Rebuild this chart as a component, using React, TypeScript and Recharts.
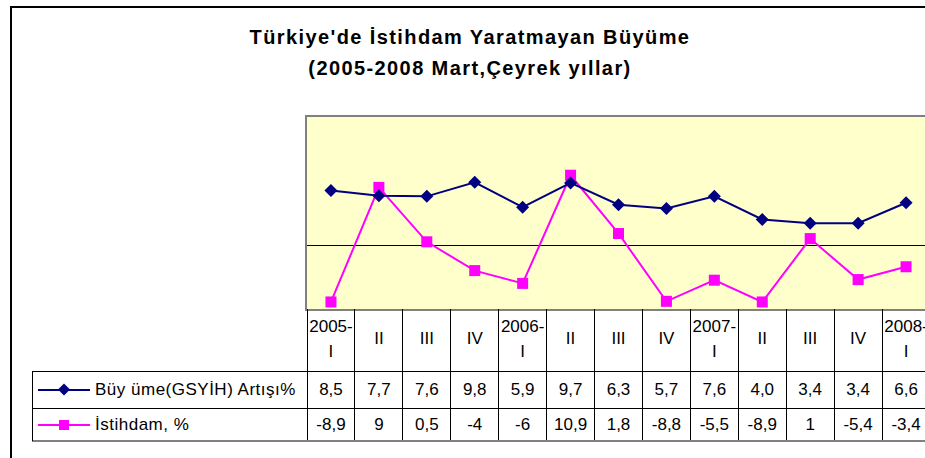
import React from "react";
import { LineChart, Line, XAxis, YAxis, CartesianGrid, ReferenceLine } from "recharts";

// quarters (header row of the data table)
const quarters = [
  "2005-\nI", "II", "III", "IV",
  "2006-\nI", "II", "III", "IV",
  "2007-\nI", "II", "III", "IV",
  "2008-\nI",
];
const growth = [8.5, 7.7, 7.6, 9.8, 5.9, 9.7, 6.3, 5.7, 7.6, 4.0, 3.4, 3.4, 6.6];
const employment = [-8.9, 9, 0.5, -4, -6, 10.9, 1.8, -8.8, -5.5, -8.9, 1, -5.4, -3.4];

const seriesNames = ["Büy üme(GSYİH) Artışı%", "İstihdam, %"];
const NAVY = "#000080";
const MAGENTA = "#FF00FF";

const data = quarters.map((q, i) => ({ q, growth: growth[i], employment: employment[i] }));

const FONT = '"Liberation Sans", Arial, sans-serif';
const PLOT_LEFT = 307;
const PLOT_RIGHT = 930;
const PLOT_TOP = 117;
const PLOT_BOTTOM = 309;
const COL_W = (PLOT_RIGHT - PLOT_LEFT) / quarters.length;
const ROW1_TOP = 371;
const ROW2_TOP = 408;
const TABLE_BOTTOM = 441;
const TABLE_LEFT = 32;

const fmtGrowth = (v: number) => v.toFixed(1).replace(".", ",");
const fmtEmp = (v: number) => String(v).replace(".", ",");

const textStyle = { fontFamily: FONT, fontSize: 17, fill: "#000" };

function TableTick(props: any) {
  const { x, index, payload } = props;
  const left = x - COL_W / 2;
  const lines = String(payload.value).split("\n");
  const headerMid = (PLOT_BOTTOM + ROW1_TOP) / 2;
  return (
    <g>
      <line
        x1={left}
        y1={PLOT_BOTTOM}
        x2={left}
        y2={TABLE_BOTTOM}
        stroke="#000"
        strokeWidth={1}
        shapeRendering="crispEdges"
      />
      {lines.length === 2 ? (
        <>
          <text x={x} y={326} textAnchor="middle" dominantBaseline="central" {...textStyle}>
            {lines[0]}
          </text>
          <text x={x} y={351} textAnchor="middle" dominantBaseline="central" {...textStyle}>
            {lines[1]}
          </text>
        </>
      ) : (
        <text x={x} y={headerMid - 2} textAnchor="middle" dominantBaseline="central" {...textStyle}>
          {lines[0]}
        </text>
      )}
      <text x={x} y={(ROW1_TOP + ROW2_TOP) / 2} textAnchor="middle" dominantBaseline="central" {...textStyle}>
        {fmtGrowth(growth[index])}
      </text>
      <text x={x} y={(ROW2_TOP + TABLE_BOTTOM) / 2} textAnchor="middle" dominantBaseline="central" {...textStyle}>
        {fmtEmp(employment[index])}
      </text>
    </g>
  );
}

const diamond = (cx: number, cy: number, r: number) =>
  `${cx},${cy - r} ${cx + r},${cy} ${cx},${cy + r} ${cx - r},${cy}`;

function DiamondDot(props: any) {
  const { cx, cy, index } = props;
  if (cx == null || cy == null) return <g key={index} />;
  return <polygon key={index} points={diamond(cx, cy, 6.5)} fill={NAVY} />;
}

function SquareDot(props: any) {
  const { cx, cy, index } = props;
  if (cx == null || cy == null) return <g key={index} />;
  return <rect key={index} x={cx - 5.5} y={cy - 5.5} width={11} height={11} fill={MAGENTA} />;
}

function TableFrame() {
  const r1 = (ROW1_TOP + ROW2_TOP) / 2;
  const r2 = (ROW2_TOP + TABLE_BOTTOM) / 2;
  return (
    <svg
      width={940}
      height={458}
      shapeRendering="crispEdges"
      style={{ position: "absolute", left: 0, top: 0, pointerEvents: "none" }}
    >
      <line x1={TABLE_LEFT} y1={ROW1_TOP} x2={940} y2={ROW1_TOP} stroke="#000" />
      <line x1={TABLE_LEFT} y1={ROW2_TOP} x2={940} y2={ROW2_TOP} stroke="#000" />
      <line x1={TABLE_LEFT} y1={TABLE_BOTTOM} x2={940} y2={TABLE_BOTTOM} stroke="#808080" strokeWidth={2} />
      <line x1={TABLE_LEFT} y1={ROW1_TOP} x2={TABLE_LEFT} y2={TABLE_BOTTOM} stroke="#000" />
      <line x1={38} y1={r1} x2={90} y2={r1} stroke={NAVY} strokeWidth={2} />
      <polygon points={diamond(64, r1, 6)} fill={NAVY} shapeRendering="auto" />
      <text x={95} y={r1} dominantBaseline="central" {...textStyle} letterSpacing={0.5}>
        {seriesNames[0]}
      </text>
      <line x1={38} y1={r2} x2={90} y2={r2} stroke={MAGENTA} strokeWidth={2} />
      <rect x={59} y={r2 - 5} width={10} height={10} fill={MAGENTA} />
      <text x={95} y={r2} dominantBaseline="central" {...textStyle} letterSpacing={0.5}>
        {seriesNames[1]}
      </text>
    </svg>
  );
}

export default function App() {
  return (
    <div
      style={{
        position: "absolute",
        left: 0,
        top: 0,
        width: 925,
        height: 458,
        overflow: "hidden",
        background: "#fff",
        fontFamily: FONT,
      }}
    >
      <div
        style={{
          position: "absolute",
          left: 10,
          top: 6,
          width: 1000,
          height: 500,
          borderLeft: "2px solid #000",
          borderTop: "2px solid #000",
        }}
      />
      <div
        style={{
          position: "absolute",
          left: 0,
          top: 22,
          width: 940,
          textAlign: "center",
          fontWeight: "bold",
          fontSize: 20,
          letterSpacing: 1.4,
          lineHeight: "31px",
          color: "#000",
        }}
      >
        <div>Türkiye'de İstihdam Yaratmayan Büyüme</div>
        <div>(2005-2008 Mart,Çeyrek yıllar)</div>
      </div>
      {/* plot area frame, grey on top and left */}
      <div
        style={{
          position: "absolute",
          left: PLOT_LEFT - 2,
          top: PLOT_TOP - 2,
          width: PLOT_RIGHT - PLOT_LEFT + 2,
          height: PLOT_BOTTOM - PLOT_TOP + 4,
          background: "#808080",
        }}
      />
      <div style={{ position: "absolute", left: 0, top: 0 }}>
        <LineChart
          width={940}
          height={458}
          data={data}
          margin={{ top: PLOT_TOP, left: PLOT_LEFT, right: 940 - PLOT_RIGHT, bottom: 0 }}
        >
          <CartesianGrid horizontal={false} vertical={false} fill="#FFFFCC" fillOpacity={1} />
          <XAxis
            dataKey="q"
            height={458 - PLOT_BOTTOM}
            axisLine={false}
            tickLine={false}
            interval={0}
            padding={{ left: COL_W / 2, right: COL_W / 2 }}
            tick={(p: any) => <TableTick {...p} />}
          />
          <YAxis hide domain={[-10, 20]} />
          <ReferenceLine y={0} stroke="#000" strokeWidth={1} shapeRendering="crispEdges" />
          <Line
            dataKey="employment"
            stroke={MAGENTA}
            strokeWidth={2}
            dot={(p: any) => <SquareDot {...p} key={p.index} />}
            isAnimationActive={false}
          />
          <Line
            dataKey="growth"
            stroke={NAVY}
            strokeWidth={2}
            dot={(p: any) => <DiamondDot {...p} key={p.index} />}
            isAnimationActive={false}
          />
        </LineChart>
      </div>
      <TableFrame />
    </div>
  );
}
